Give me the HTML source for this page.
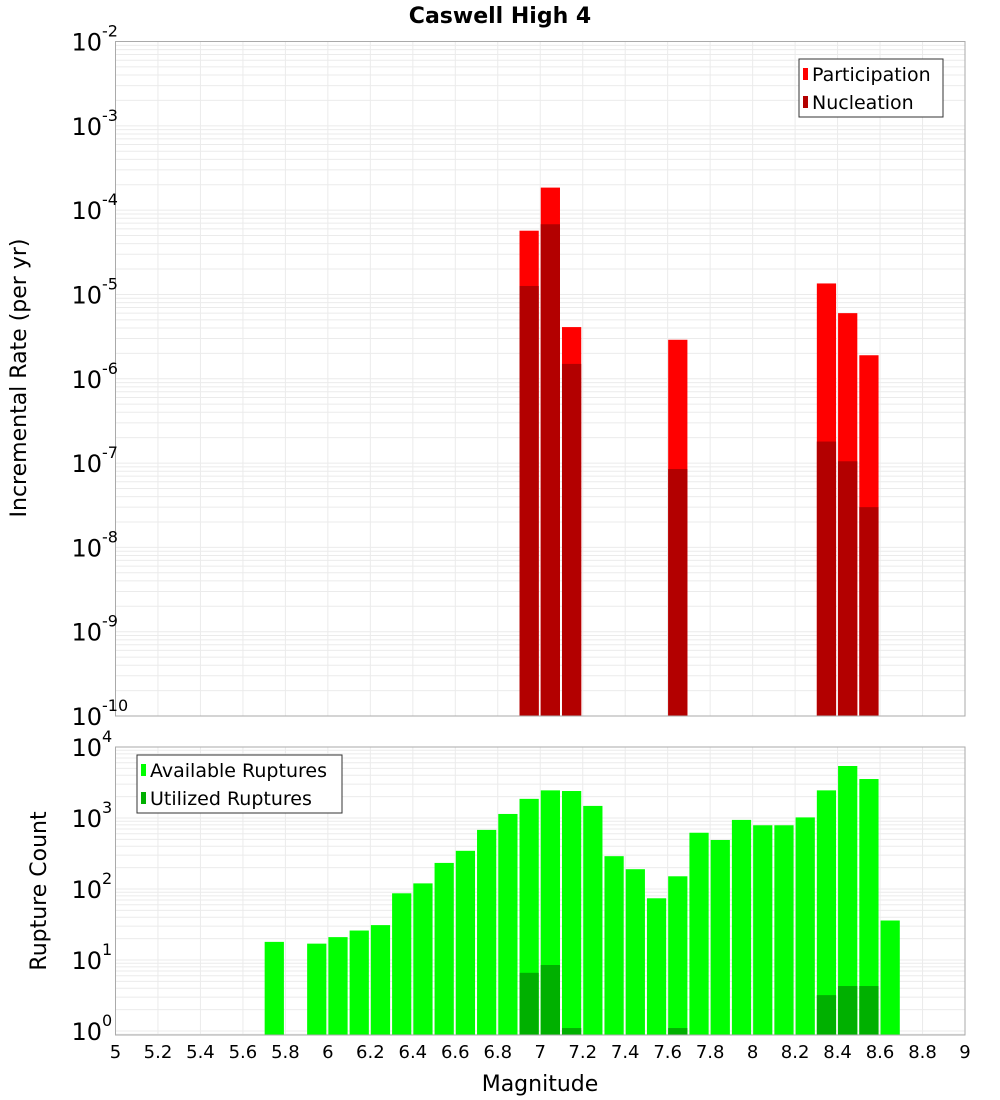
<!DOCTYPE html>
<html><head><meta charset="utf-8"><style>
body{margin:0;background:#fff}
svg{display:block;font-family:"DejaVu Sans","Liberation Sans",sans-serif}
</style></head><body>
<svg id="c" width="1000" height="1100" xmlns="http://www.w3.org/2000/svg">
<text x="500" y="23" text-anchor="middle" font-size="22" font-weight="bold">Caswell High 4</text>
<g id="top"></g>
<g id="bot"></g>
<text transform="translate(26,378) rotate(-90)" text-anchor="middle" font-size="22">Incremental Rate (per yr)</text>
<text transform="translate(46,891) rotate(-90)" text-anchor="middle" font-size="22">Rupture Count</text>
<text x="540" y="1091" text-anchor="middle" font-size="22">Magnitude</text>
</svg>
<script>
const binStarts = [5.7,5.9,6.0,6.1,6.2,6.3,6.4,6.5,6.6,6.7,6.8,6.9,7.0,7.1,7.2,7.3,7.4,7.5,7.6,7.7,7.8,7.9,8.0,8.1,8.2,8.3,8.4,8.5,8.6];
const available = [18,17,21,26,31,87,120,233,345,680,1140,1860,2450,2400,1480,290,190,74,151,620,490,940,790,790,1020,2450,5400,3540,36];
const utilBins = [6.9,7.0,7.1,7.6,8.3,8.4,8.5];
const utilized = [6.6,8.5,1.1,1.1,3.2,4.3,4.3];
const rateBins = [6.9,7.0,7.1,7.6,8.3,8.4,8.5];
const participation = [5.7e-5,1.85e-4,4.1e-6,2.9e-6,1.35e-5,6e-6,1.9e-6];
const nucleation = [1.26e-5,6.8e-5,1.5e-6,8.5e-8,1.8e-7,1.05e-7,3e-8];
const xTicks = [5,5.2,5.4,5.6,5.8,6,6.2,6.4,6.6,6.8,7,7.2,7.4,7.6,7.8,8,8.2,8.4,8.6,8.8,9];
const topExps = [-2,-3,-4,-5,-6,-7,-8,-9,-10];
const botExps = [0,1,2,3,4];

const NS="http://www.w3.org/2000/svg";
const L=115.5,R=965;
const xs=m=>L+(m-5)*(R-L)/4;
const T1=41.5,B1=716;
const y1=v=>T1+(-2-Math.log10(v))*(B1-T1)/8;
const T2=747,B2=1035;
const y2=v=>747+(4-Math.log10(v))*71;
function mk(p,tag,a){const e=document.createElementNS(NS,tag);for(const k in a)e.setAttribute(k,a[k]);p.appendChild(e);return e;}
function panel(g,T,B,yf,lo,hi){
  mk(g,'rect',{x:L,y:T,width:R-L,height:B-T,fill:'#fff'});
  for(let e=lo;e<hi;e++)for(let k=1;k<10;k++){const y=yf(k*Math.pow(10,e));if(y<T||y>B)continue;
    const ln=mk(g,'line',{x1:L,x2:R,y1:y,y2:y,stroke:'#ebebeb','stroke-width':1});
    
    }
  xTicks.forEach(t=>{const x=xs(t);const ln=mk(g,'line',{x1:x,x2:x,y1:T,y2:B,stroke:'#ebebeb','stroke-width':1});
    
    });
}
function bars(g,bins,vals,yf,B,fill,name){
  bins.forEach((b,i)=>{const x0=xs(b)+0.5,x1=xs(b+0.1)-1.5;const y=Math.max(yf(vals[i]),0);
    const r=mk(g,'rect',{x:x0,y:y,width:x1-x0,height:B-y,fill:fill});
    
    });
}
function yLabels(g,exps,yf){
  exps.forEach(e=>{const y=yf(Math.pow(10,e));
    const t=mk(g,'text',{x:102,y:y+9,'text-anchor':'end','font-size':24});t.textContent='10';
    
    
    const s=mk(g,'text',{x:102,y:y-5,'font-size':16});s.textContent=String(e);
    
    });
}
function legend(g,x,y,w,items){
  const bx=mk(g,'rect',{x:x,y:y,width:w,height:58,fill:'#fff',stroke:'#333','stroke-width':1});
  
  
  items.forEach((it,i)=>{const cy=y+15+i*28;
    mk(g,'rect',{x:x+4,y:cy-6,width:5,height:12,fill:it[1]});
    const t=mk(g,'text',{x:x+13,y:cy+7,'font-size':19});t.textContent=it[0];
    
    });
}
const gt=document.getElementById('top'),gb=document.getElementById('bot');
panel(gt,T1,B1,y1,-10,-2);
bars(gt,rateBins,participation,y1,B1,'#ff0000','participation');
bars(gt,rateBins,nucleation,y1,B1,'#b30000','nucleation');
mk(gt,'rect',{x:L,y:T1,width:R-L,height:B1-T1,fill:'none',stroke:'#aaa','stroke-width':1});
yLabels(gt,topExps,y1);
legend(gt,799,59,144,[['Participation','#ff0000'],['Nucleation','#b30000']]);
panel(gb,T2,B2,y2,-1,4);
bars(gb,binStarts,available,y2,B2,'#00ff00','available');
bars(gb,utilBins,utilized,y2,B2,'#00b000','utilized');
mk(gb,'rect',{x:L,y:T2,width:R-L,height:B2-T2,fill:'none',stroke:'#aaa','stroke-width':1});
yLabels(gb,botExps,y2);
legend(gb,137,755,205,[['Available Ruptures','#00ff00'],['Utilized Ruptures','#00b000']]);
xTicks.forEach(t=>{const e=mk(gb,'text',{x:xs(t),y:1058,'text-anchor':'middle','font-size':18});
  e.textContent=String(t);
  
  });
</script>
</body></html>
